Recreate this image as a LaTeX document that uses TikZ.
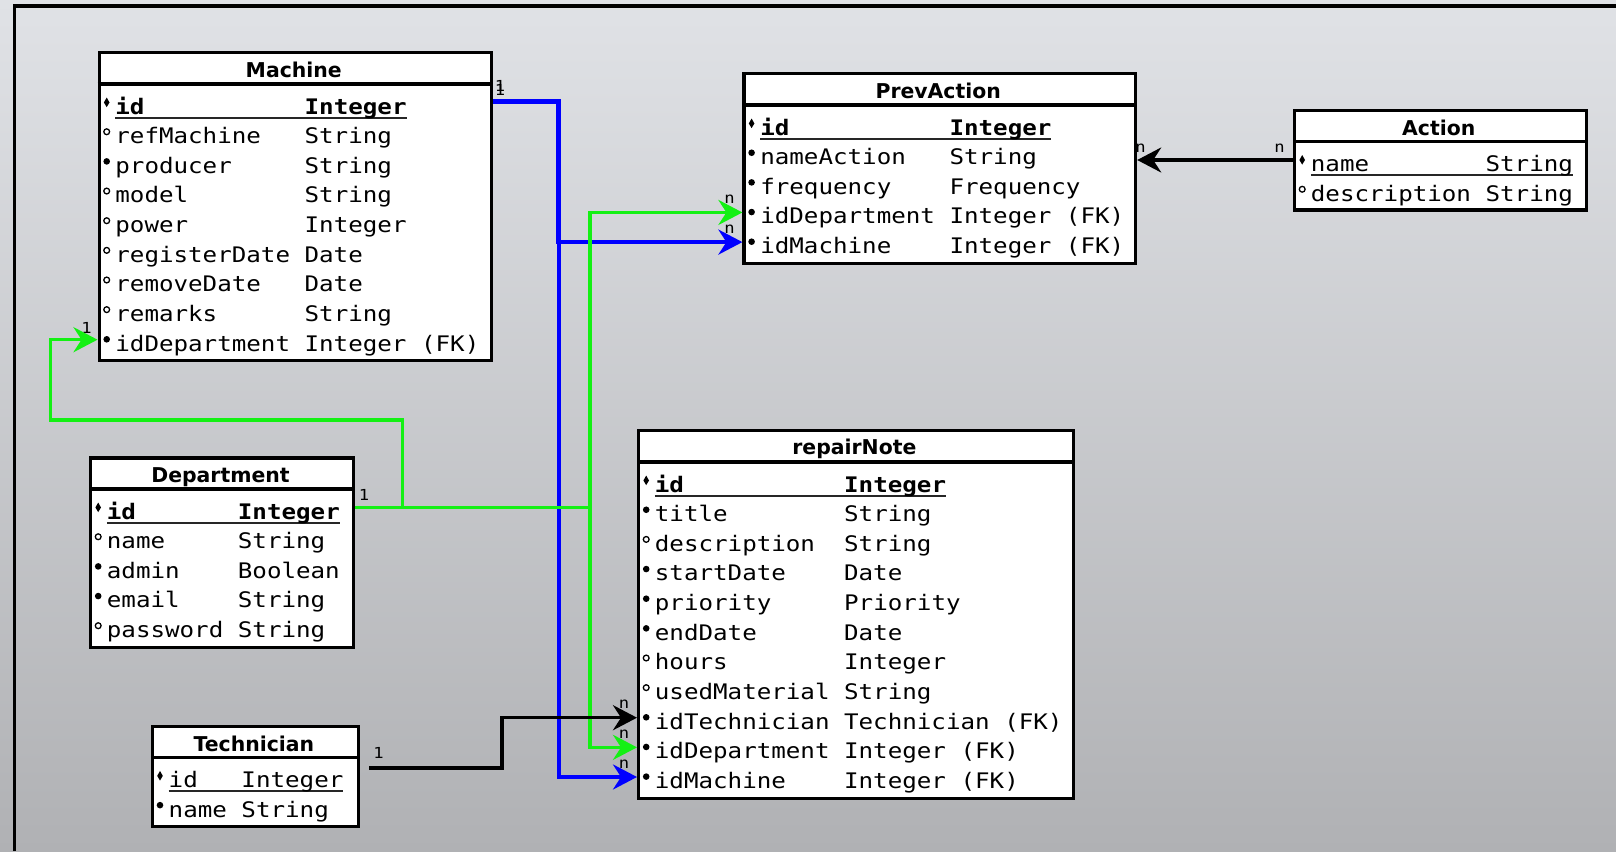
\documentclass[tikz,border=0pt]{standalone}
\usepackage{fontspec}
\usetikzlibrary{arrows.meta,calc}
\newfontfamily\monof[FakeStretch=1.13]{DejaVu Sans Mono}
\newfontfamily\hdrf{DejaVu Sans}
\definecolor{bgtop}{RGB}{224,226,230}
\definecolor{bgbot}{RGB}{176,177,180}
\definecolor{conblue}{RGB}{0,0,255}
\definecolor{congreen}{RGB}{20,240,20}
\newlength\cw \setlength\cw{7.279pt}
\newsavebox\ulbox
\newcommand\cellt[3]{\makebox[#1\cw][l]{#2}#3}
\newcommand\keycell[3]{\sbox\ulbox{\makebox[#1\cw][l]{#2}#3}\rlap{\color{black!85}\rule[-2.3pt]{\wd\ulbox}{0.9pt}}\usebox\ulbox}
\newcommand\mkkey[1]{\fill ([xshift=4.6pt,yshift=2.5pt]#1.west) -- ++(1.4pt,-2.5pt) -- ++(-1.4pt,-2.3pt) -- ++(-1.4pt,2.3pt) -- cycle;}
\newcommand\mkreq[1]{\fill ([xshift=4.6pt,yshift=0.2pt]#1.west) circle (1.65pt);}
\newcommand\mkopt[1]{\draw[line width=0.65pt] ([xshift=4.6pt,yshift=0.2pt]#1.west) circle (1.45pt);}
\newcommand\erow[6]{\node[rowtxt] (#1-r#2) at (#3,{#4+18.5+#2*29.65}) {\hspace*{8.75pt}#6}; #5{#1-r#2}}
\newcommand\etable[7]{%
 \node[tbl, minimum width={(#4-#2)*0.5pt}, minimum height={(#5-#3)*0.5pt}] (#1) at (#2,#3) {};
 \draw[tblline] (#2,#6) -- (#4,#6);
 \node[hdr] (#1-title) at ({(#2+#4)/2},{#3+26.3}) {#7};}
\tikzset{
 tbl/.style={draw, fill=white, line width=1.6pt, anchor=north west, inner sep=0pt},
 tblline/.style={line width=1.6pt},
 hdr/.style={anchor=base, inner sep=0pt, font=\hdrf\bfseries\fontsize{10.2pt}{12pt}\selectfont},
 rowtxt/.style={anchor=west, inner sep=0pt, text height=13.16pt, text depth=1.66pt, font=\monof\fontsize{10.7pt}{12pt}\selectfont},
 lbl/.style={inner sep=0pt, font=\monof\fontsize{7.6pt}{9pt}\selectfont},
 conn/.style={line width=1.75pt, -{Stealth[length=12pt,width=12.5pt,inset=4pt]}},
}
\begin{document}
\begin{tikzpicture}[x=0.5pt,y=-0.5pt]
\useasboundingbox (0,0) rectangle (1616,851);
\shade[top color=bgtop, bottom color=bgbot] (0,0) rectangle (1616,851);
\draw[line width=1.6pt] (14.3,851) -- (14.3,6) -- (1616,6);

% Machine
\etable{m}{97.5}{51}{490}{359}{84}{Machine}
\erow{m}{0}{97.5}{84}{\mkkey}{\keycell{13}{\bfseries id}{\bfseries Integer}}
\erow{m}{1}{97.5}{84}{\mkopt}{\cellt{13}{refMachine}{String}}
\erow{m}{2}{97.5}{84}{\mkreq}{\cellt{13}{producer}{String}}
\erow{m}{3}{97.5}{84}{\mkopt}{\cellt{13}{model}{String}}
\erow{m}{4}{97.5}{84}{\mkopt}{\cellt{13}{power}{Integer}}
\erow{m}{5}{97.5}{84}{\mkopt}{\cellt{13}{registerDate}{Date}}
\erow{m}{6}{97.5}{84}{\mkopt}{\cellt{13}{removeDate}{Date}}
\erow{m}{7}{97.5}{84}{\mkopt}{\cellt{13}{remarks}{String}}
\erow{m}{8}{97.5}{84}{\mkreq}{\cellt{13}{idDepartment}{Integer (FK)}}

% PrevAction
\etable{pa}{742.4}{72}{1134}{261.5}{105}{PrevAction}
\erow{pa}{0}{742.4}{105}{\mkkey}{\keycell{13}{\bfseries id}{\bfseries Integer}}
\erow{pa}{1}{742.4}{105}{\mkreq}{\cellt{13}{nameAction}{String}}
\erow{pa}{2}{742.4}{105}{\mkreq}{\cellt{13}{frequency}{Frequency}}
\erow{pa}{3}{742.4}{105}{\mkreq}{\cellt{13}{idDepartment}{Integer (FK)}}
\erow{pa}{4}{742.4}{105}{\mkreq}{\cellt{13}{idMachine}{Integer (FK)}}

% Action
\etable{a}{1293}{109}{1584.5}{208.3}{141.5}{Action}
\erow{a}{0}{1293}{141.5}{\mkkey}{\keycell{12}{name}{String}}
\erow{a}{1}{1293}{141.5}{\mkopt}{\cellt{12}{description}{String}}

% Department
\etable{d}{89}{456.3}{352}{646}{489}{Department}
\erow{d}{0}{89}{489}{\mkkey}{\keycell{9}{\bfseries id}{\bfseries Integer}}
\erow{d}{1}{89}{489}{\mkopt}{\cellt{9}{name}{String}}
\erow{d}{2}{89}{489}{\mkreq}{\cellt{9}{admin}{Boolean}}
\erow{d}{3}{89}{489}{\mkreq}{\cellt{9}{email}{String}}
\erow{d}{4}{89}{489}{\mkopt}{\cellt{9}{password}{String}}

% Technician
\etable{t}{150.8}{724.7}{357}{824.8}{757.4}{Technician}
\erow{t}{0}{150.8}{757.4}{\mkkey}{\keycell{5}{id}{Integer}}
\erow{t}{1}{150.8}{757.4}{\mkreq}{\cellt{5}{name}{String}}

% repairNote
\etable{rn}{637}{428.5}{1071.7}{796.7}{462}{repairNote}
\erow{rn}{0}{637}{462}{\mkkey}{\keycell{13}{\bfseries id}{\bfseries Integer}}
\erow{rn}{1}{637}{462}{\mkreq}{\cellt{13}{title}{String}}
\erow{rn}{2}{637}{462}{\mkopt}{\cellt{13}{description}{String}}
\erow{rn}{3}{637}{462}{\mkreq}{\cellt{13}{startDate}{Date}}
\erow{rn}{4}{637}{462}{\mkreq}{\cellt{13}{priority}{Priority}}
\erow{rn}{5}{637}{462}{\mkreq}{\cellt{13}{endDate}{Date}}
\erow{rn}{6}{637}{462}{\mkopt}{\cellt{13}{hours}{Integer}}
\erow{rn}{7}{637}{462}{\mkopt}{\cellt{13}{usedMaterial}{String}}
\erow{rn}{8}{637}{462}{\mkreq}{\cellt{13}{idTechnician}{Technician (FK)}}
\erow{rn}{9}{637}{462}{\mkreq}{\cellt{13}{idDepartment}{Integer (FK)}}
\erow{rn}{10}{637}{462}{\mkreq}{\cellt{13}{idMachine}{Integer (FK)}}

% labels
\node[lbl] (l-m1a) at (500,86) {1};
\node[lbl] (l-m1b) at (500,89.5) {1};
\node[lbl] (l-m2) at (86.5,328) {1};
\node[lbl] (l-d1) at (364,495) {1};
\node[lbl] (l-t1) at (378.5,752.5) {1};
\node[lbl] (l-pa1) at (729.5,199) {n};
\node[lbl] (l-pa2) at (729.5,229) {n};
\node[lbl] (l-rn1) at (624,704.5) {n};
\node[lbl] (l-rn2) at (624,734.5) {n};
\node[lbl] (l-rn3) at (624,764.5) {n};
\node[lbl] (l-a1) at (1279.5,148.5) {n};
\node[lbl] (l-pa3) at (1140.5,148.5) {n};

% routing coordinates
\coordinate (bx) at (557.6,0);
\coordinate (gx) at (590,0);
\coordinate (gx2) at (402.5,0);
\coordinate (gy) at (0,420);
\coordinate (gx3) at (50.7,0);
\coordinate (tx) at (502,0);

% blue connectors
\draw[conn, conblue] (m.east |- m-r0) -| (bx |- pa-r4) -- (pa-r4.west);
\draw[conn, conblue] ($(m.east |- m-r0)+(0,-1.5)$) -| ($(bx |- rn-r10)+(1.5,0)$) -- (rn-r10.west);

% green connectors
\draw[conn, congreen] (d.east |- d-r0) -| (gx |- pa-r3) -- (pa-r3.west);
\draw[conn, congreen] (d.east |- d-r0) -| (gx |- rn-r9) -- (rn-r9.west);
\draw[conn, congreen] (d.east |- d-r0) -| (gx2 |- gy) -| (gx3 |- m-r8) -- (m-r8.west);

% black connectors
\draw[conn] ($(t.east |- t-r0)+(9,-8)$) -| (tx |- rn-r8) -- (rn-r8.west);
\draw[conn] (a-r0.west) -- (pa.east |- a-r0);
\end{tikzpicture}
\end{document}
